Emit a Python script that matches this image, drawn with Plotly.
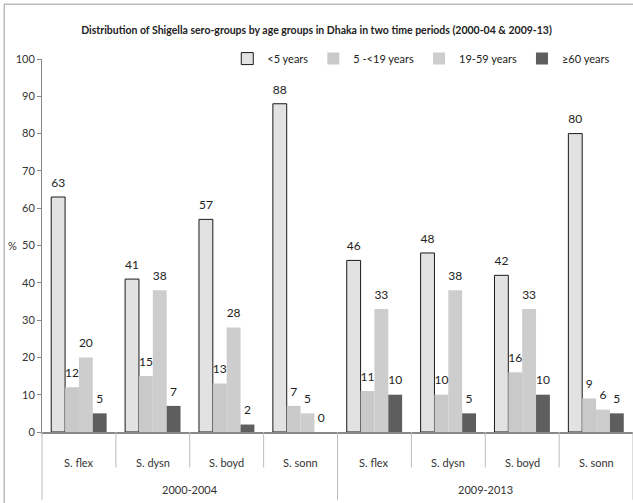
import plotly.graph_objects as go

period_names = ["2000-2004", "2009-2013"]
species_names = ["S. flex", "S. dysn", "S. boyd", "S. sonn"]
periods = [p for p in period_names for _ in species_names]
species = species_names * len(period_names)

series_names = ["<5 years", "5 -<19 years", "19-59 years", "≥60 years"]
under5 = [63, 41, 57, 88, 46, 48, 42, 80]
age5_19 = [12, 15, 13, 7, 11, 10, 16, 9]
age19_59 = [20, 38, 28, 5, 33, 38, 33, 6]
age60 = [5, 7, 2, 0, 10, 5, 10, 5]
values = [under5, age5_19, age19_59, age60]

fills = ["#e2e2e2", "#c9c9c9", "#cdcdcd", "#5e5e5e"]
outlines = ["#1a1a1a", "#c9c9c9", "#cdcdcd", "#5e5e5e"]
outline_w = [1, 0, 0, 0]

FONT = "Lato, Roboto, sans-serif"

def f(size, color="#333", weight="normal"):
    return dict(family=FONT, size=size, color=color, weight=weight)

fig = go.Figure()
x = [periods, species]
for i, (name, vals) in enumerate(zip(series_names, values)):
    fig.add_trace(go.Bar(
        x=x, y=vals, name=name,
        marker=dict(color=fills[i], line=dict(color=outlines[i], width=outline_w[i])),
        offsetgroup=str(i), alignmentgroup="a",
    ))
for i, (name, vals) in enumerate(zip(series_names, values)):
    fig.add_trace(go.Scatter(
        x=x, y=vals, mode="markers+text", text=[str(v) for v in vals],
        textposition="top center",
        textfont=f(12, "#222"),
        marker=dict(size=10, color="rgba(0,0,0,0)"),
        offsetgroup=str(i), alignmentgroup="a",
        showlegend=False, hoverinfo="skip", cliponaxis=False,
    ))

fig.update_layout(
    width=633, height=503,
    margin=dict(l=42, r=0, t=59, b=71),
    paper_bgcolor="white", plot_bgcolor="white",
    barmode="group", bargap=0.25, bargroupgap=0,
    scattermode="group", scattergap=0.25,
    font=f(11),
    title=dict(
        text="Distribution of Shigella sero-groups by age groups in Dhaka in two time periods (2000-04 &amp; 2009-13)",
        x=0.5, xref="container", xanchor="center", y=0.94, yanchor="middle",
        font=f(10.5, "#222", "bold"),
    ),
    legend=dict(
        orientation="h", x=0.97, xanchor="right", y=1.04, yanchor="top",
        font=f(11, "#222"),
        itemwidth=30, bgcolor="rgba(0,0,0,0)", traceorder="normal",
    ),
    showlegend=True,
)
fig.update_yaxes(
    range=[0, 100], dtick=10, ticks="outside", ticklen=4, tickcolor="#888",
    showline=True, linecolor="#888", linewidth=1, showgrid=False, zeroline=False,
    tickfont=f(11),
)
fig.update_xaxes(
    type="multicategory", showline=True, linecolor="#888", linewidth=1.5,
    showticklabels=False, showdividers=False, showgrid=False,
)

# category axis labels and dividers (two-level)
n = len(species)
per = len(species_names)
for k, s in enumerate(species):
    fig.add_annotation(
        text=s, xref="paper", yref="paper", x=(k + 0.5) / n, y=-0.083,
        showarrow=False, font=f(11), xanchor="center", yanchor="middle",
    )
for j, p in enumerate(period_names):
    fig.add_annotation(
        text=p, xref="paper", yref="paper", x=(j * per + per / 2) / n, y=-0.155,
        showarrow=False, font=f(11), xanchor="center", yanchor="middle",
    )
for k in range(n + 1):
    long_div = (k % per == 0)
    fig.add_shape(
        type="line", xref="paper", yref="paper", x0=k / n, x1=k / n,
        y0=0, y1=-0.182 if long_div else -0.095,
        line=dict(color="#bbb", width=1),
    )

fig.add_annotation(
    text="%", xref="paper", yref="paper", x=-0.05, xanchor="center", y=0.5,
    showarrow=False, font=f(11),
)
fig.add_shape(
    type="rect", xref="paper", yref="paper", x0=-0.064, x1=1.05, y0=-0.25, y1=1.147,
    line=dict(color="#999", width=1), fillcolor="rgba(0,0,0,0)", layer="below",
)
fig.write_html("out.html")
